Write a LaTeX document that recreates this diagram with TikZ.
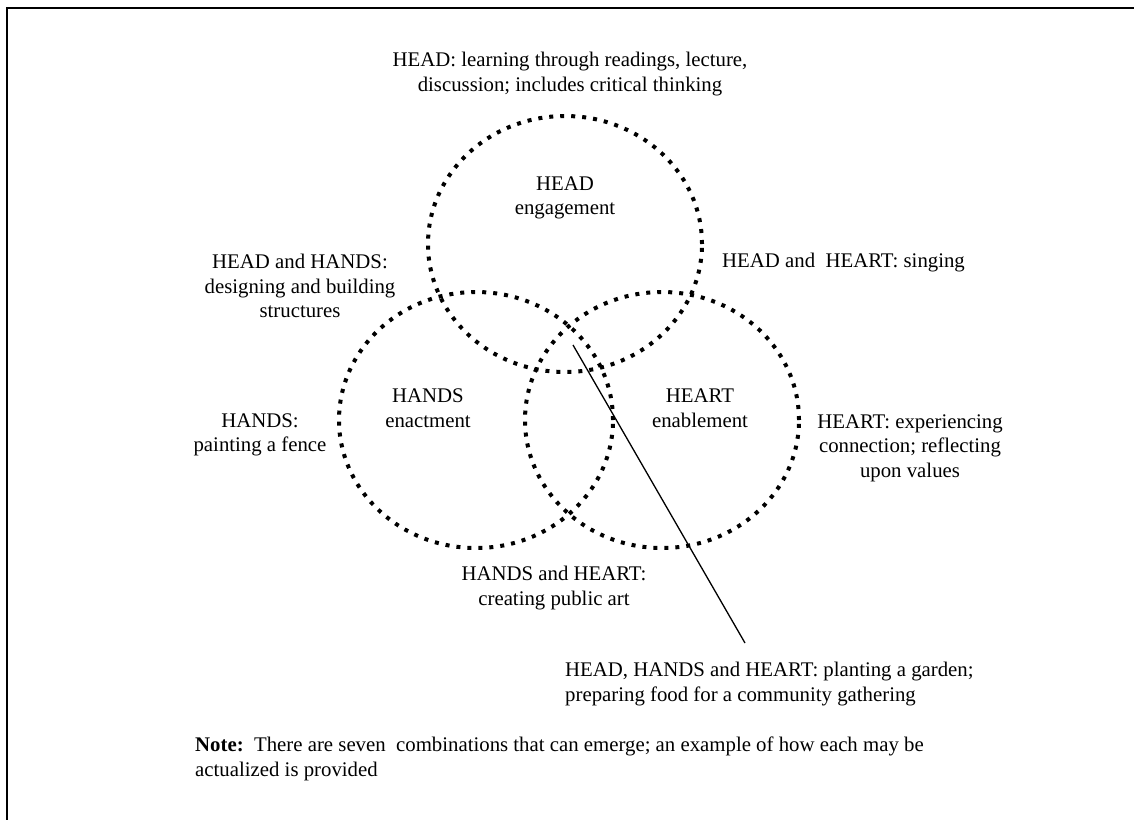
\documentclass[tikz,border=0pt]{standalone}
\usepackage{fontspec}
\setmainfont{Liberation Serif}
\usetikzlibrary{shapes.geometric}
\tikzset{
  ring/.style={ellipse, draw, line width=4pt, dash pattern=on 4pt off 7pt, line cap=butt,
    minimum width=274pt, minimum height=256pt, inner sep=0pt},
  lbl/.style={align=center, inner sep=0pt, font=\fontsize{20.8}{24.5}\selectfont},
  lbll/.style={align=left, inner sep=0pt, font=\fontsize{20.8}{24.5}\selectfont},
  frameline/.style={line width=2pt},
  pointer/.style={line width=1.3pt}
}
\begin{document}
\begin{tikzpicture}[x=1pt,y=-1pt]
\useasboundingbox (0,0) rectangle (1134,819);
\coordinate (fa) at (7,830);
\coordinate (fb) at (7,8);
\coordinate (fc) at (1140,8);
\draw[frameline] (fa) -- (fb) -- (fc);

\node[ring] (head) at (565,244) {};
\node[ring] (hands) at (476,420) {};
\node[ring] (heart) at (662,420) {};

\node[lbl] (tHead) at (570,74) {HEAD: learning through readings, lecture,\\discussion; includes critical thinking};
\node[lbl] (cHead) at (565,198) {HEAD\\engagement};
\node[lbl] (tHeadHands) at (300,286) {HEAD and HANDS:\\designing and building\\structures};
\node[lbll, anchor=west] (tHeadHeart) at (722,263) {HEAD and\ \ HEART: singing};
\node[lbl] (cHands) at (428,408) {HANDS\\enactment};
\node[lbl] (cHeart) at (700,408) {HEART\\enablement};
\node[lbl] (tHands) at (260,435) {HANDS:\\painting a fence};
\node[lbl] (tHeart) at (910,448) {HEART: experiencing\\connection; reflecting\\upon values};
\node[lbl] (tHandsHeart) at (554,588) {HANDS and HEART:\\creating public art};
\node[lbll, anchor=west] (tAll) at (565,684) {HEAD, HANDS and HEART: planting a garden;\\preparing food for a community gathering};
\node[lbll, anchor=west] (tNote) at (195,759) {\textbf{Note:}\ \ There are seven\ \ combinations that can emerge; an example of how each may be\\actualized is provided};

\coordinate (pStart) at (573,345);
\coordinate (pEnd) at (745,643);
\draw[pointer] (pStart) -- (pEnd);
\end{tikzpicture}
\end{document}
